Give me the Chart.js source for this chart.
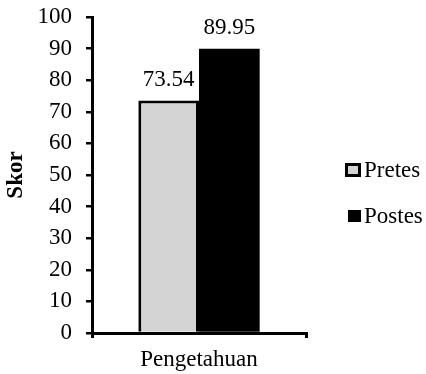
<!DOCTYPE html>
<html>
<head>
<meta charset="utf-8">
<script src="https://cdn.jsdelivr.net/npm/chart.js@4/dist/chart.umd.min.js"></script>
<style>
  html, body { margin: 0; padding: 0; background: #fff; }
  #wrap { width: 426px; height: 374px; position: relative; }
</style>
</head>
<body>
<div id="wrap"><canvas id="c" width="426" height="374"></canvas></div>
<script>
const categories = ['Pengetahuan'];
const seriesNames = ['Pretes', 'Postes'];
const pretesValues = [73.54];
const postesValues = [89.95];
const yTicks = [0, 10, 20, 30, 40, 50, 60, 70, 80, 90, 100];
const yTitle = 'Skor';

const FONT = "'Liberation Serif', 'Times New Roman', serif";
const FS = 23;
const colors = ['#d4d4d4', '#000000'];

const valueLabels = {
  id: 'valueLabels',
  afterDatasetsDraw(chart) {
    const ctx = chart.ctx;
    ctx.save();
    ctx.font = FS + 'px ' + FONT;
    ctx.fillStyle = '#000';
    ctx.textAlign = 'center';
    ctx.textBaseline = 'alphabetic';
    chart.data.datasets.forEach((ds, i) => {
      const meta = chart.getDatasetMeta(i);
      meta.data.forEach((bar, j) => {
        ctx.fillText(ds.data[j].toFixed(2), bar.x, bar.y - 15);
      });
    });
    ctx.restore();
  }
};

const sideLegend = {
  id: 'sideLegend',
  afterDraw(chart) {
    const ctx = chart.ctx;
    const area = chart.chartArea;
    const x = area.right + 39;
    const cy = (area.top + area.bottom) / 2;
    ctx.save();
    ctx.font = FS + 'px ' + FONT;
    ctx.textBaseline = 'middle';
    ctx.textAlign = 'left';
    chart.data.datasets.forEach((ds, i) => {
      const y = cy - 5 + i * 46;
      if (i === 0) {
        ctx.fillStyle = ds.backgroundColor;
        ctx.fillRect(x, y - 7, 16, 14);
        ctx.lineWidth = 3;
        ctx.strokeStyle = '#000';
        ctx.strokeRect(x + 1.5, y - 5.5, 13, 11);
      } else {
        ctx.fillStyle = ds.backgroundColor;
        ctx.fillRect(x + 3, y - 6, 13, 12);
      }
      ctx.fillStyle = '#000';
      ctx.fillText(ds.label, x + 19, y + 1);
    });
    ctx.restore();
  }
};

new Chart(document.getElementById('c'), {
  type: 'bar',
  data: {
    labels: categories,
    datasets: [
      { label: seriesNames[0], data: pretesValues, backgroundColor: colors[0], borderColor: '#000', borderWidth: 3, borderSkipped: 'bottom' },
      { label: seriesNames[1], data: postesValues, backgroundColor: colors[1], borderColor: '#000', borderWidth: 0 }
    ]
  },
  options: {
    responsive: false,
    animation: false,
    devicePixelRatio: 1,
    layout: { padding: { top: 17, right: 120, left: 0, bottom: 0 } },
    datasets: { bar: { categoryPercentage: 0.567, barPercentage: 1 } },
    plugins: { legend: { display: false }, tooltip: { enabled: false } },
    scales: {
      x: {
        grid: { display: true, drawOnChartArea: false, offset: true, color: '#000', tickLength: 5, lineWidth: 3 },
        border: { display: true, color: '#000', width: 3 },
        ticks: { color: '#000', font: { family: FONT, size: FS }, padding: 8 },
        afterFit(s) { s.height = 41; s.paddingLeft = 0; s.paddingRight = 0; }
      },
      y: {
        min: 0, max: 100,
        afterBuildTicks(s) { s.ticks = yTicks.map(v => ({ value: v })); },
        grid: { display: true, drawOnChartArea: false, color: '#000', tickLength: 6, lineWidth: 2.5 },
        border: { display: true, color: '#000', width: 3 },
        ticks: { color: '#000', font: { family: FONT, size: FS }, padding: 14, autoSkip: false },
        title: { display: true, text: yTitle, color: '#000', font: { family: FONT, size: FS, weight: 'bold' }, padding: { top: 2, bottom: 2 } },
        afterFit(s) { s.width = 92; s.paddingTop = 0; s.paddingBottom = 0; }
      }
    }
  },
  plugins: [valueLabels, sideLegend]
});
</script>
</body>
</html>
